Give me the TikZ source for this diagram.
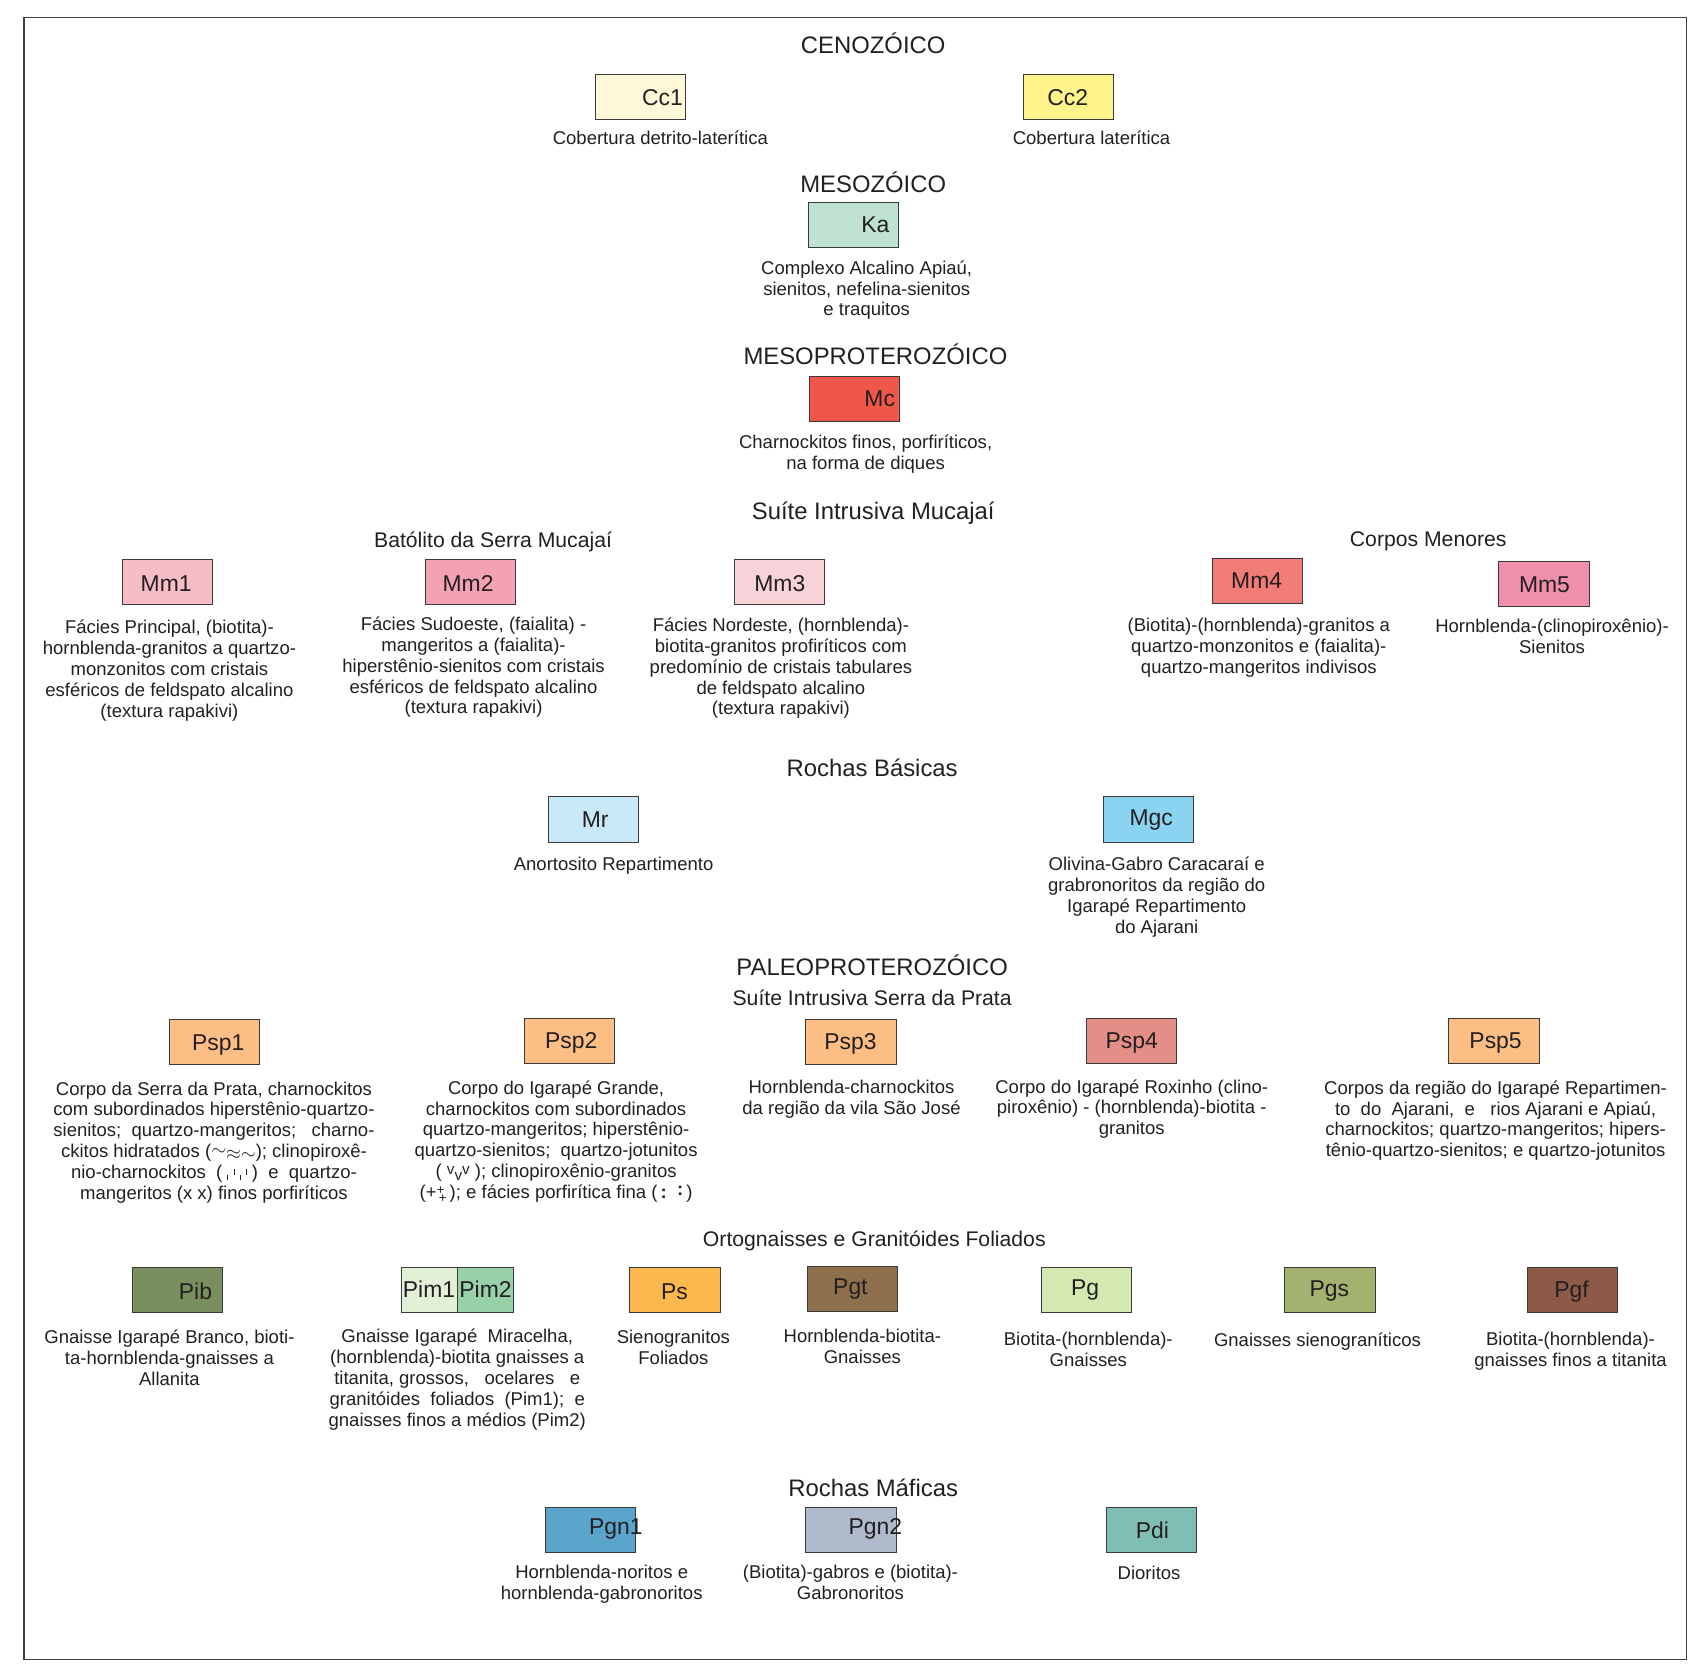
\documentclass[tikz,border=0pt]{standalone}
\usepackage{fontspec}
\setmainfont{Liberation Sans}
\usepackage{tikz}
\usetikzlibrary{positioning}

\definecolor{ink}{HTML}{231F20}
\definecolor{boxline}{HTML}{3A3A3A}
\definecolor{cCc1}{HTML}{FFF8D8}
\definecolor{cCc2}{HTML}{FFF38C}
\definecolor{cKa}{HTML}{BFE2D3}
\definecolor{cMc}{HTML}{EE574A}
\definecolor{cMm1}{HTML}{F6BDC6}
\definecolor{cMm2}{HTML}{F3A1B3}
\definecolor{cMm3}{HTML}{F9D3DA}
\definecolor{cMm4}{HTML}{F17C78}
\definecolor{cMm5}{HTML}{EF8FAB}
\definecolor{cMr}{HTML}{CAE9F8}
\definecolor{cMgc}{HTML}{8BD4F1}
\definecolor{cPsp}{HTML}{FCBE84}
\definecolor{cPsp4}{HTML}{E38F87}
\definecolor{cPib}{HTML}{7A8F5F}
\definecolor{cPim1}{HTML}{E3F0D8}
\definecolor{cPim2}{HTML}{98D0A8}
\definecolor{cPs}{HTML}{FBB84C}
\definecolor{cPgt}{HTML}{8E6F4E}
\definecolor{cPg}{HTML}{D4E8B2}
\definecolor{cPgs}{HTML}{A3B36F}
\definecolor{cPgf}{HTML}{8E5A48}
\definecolor{cPgn1}{HTML}{5AA5CB}
\definecolor{cPgn2}{HTML}{AFBACD}
\definecolor{cPdi}{HTML}{80BEB3}

\newcommand{\smalltick}[1]{\raisebox{#1}[0pt][0pt]{\rule{0.5pt}{3pt}}}
\newcommand{\shifted}[2]{\raisebox{#1}[0pt][0pt]{#2}}

\begin{document}
\begin{tikzpicture}[x=0.2mm, y=-0.2mm,
    unit/.style = {draw=boxline, line width=0.5pt, minimum width=16.6mm, minimum height=8.3mm, inner sep=0pt},
    tag/.style = {font=\fontsize{12}{14}\selectfont, text=ink, inner sep=0pt},
    era/.style = {font=\fontsize{12.5}{15}\selectfont, text=ink, anchor=base, inner sep=0pt},
    group/.style = {font=\fontsize{11.1}{13}\selectfont, text=ink, anchor=base, inner sep=0pt},
    desc/.style = {font=\fontsize{9.7}{10.94}\selectfont, text=ink, align=center, anchor=north, inner sep=0pt}]
    \useasboundingbox (0,0) rectangle (1568,1541);
    \draw[black!75, line width=0.8pt] (22,16) rectangle (1553,1528);

    \node[era] (ceno) at (804,49) {CENOZÓICO};
    \node[unit, fill=cCc1] (cc1) at (589.5,89.5) {};
    \node[tag] (cc1-t) at (610,89.5) {Cc1};
    \node[desc] (cc1-d) at (608,120.5) {Cobertura detrito-laterítica};
    \node[unit, fill=cCc2] (cc2) at (983.5,89.5) {};
    \node[tag] (cc2-t) at (983,89.5) {Cc2};
    \node[desc] (cc2-d) at (1005,120.5) {Cobertura laterítica};

    \node[era] (meso) at (804,177) {MESOZÓICO};
    \node[unit, fill=cKa] (ka) at (785.5,207.5) {};
    \node[tag] (ka-t) at (806,207) {Ka};
    \node[desc] (ka-d) at (798,239.5) {Complexo Alcalino Apiaú,\\sienitos, nefelina-sienitos\\e traquitos};

    \node[era] (mesopr) at (806,336) {MESOPROTEROZÓICO};
    \node[unit, fill=cMc] (mc) at (786.5,367.5) {};
    \node[tag] (mc-t) at (810,367) {Mc};
    \node[desc] (mc-d) at (797,400.5) {Charnockitos finos, porfiríticos,\\na forma de diques};

    \node[era] (mucajai) at (804,478) {Suíte Intrusiva Mucajaí};
    \node[group] (batolito) at (454,504) {Batólito da Serra Mucajaí};
    \node[group] (menores) at (1315,503) {Corpos Menores};
    \node[unit, fill=cMm1] (mm1) at (154.5,535.5) {};
    \node[tag] (mm1-t) at (153,537) {Mm1};
    \node[desc] (mm1-d) at (156,570.5) {Fácies Principal, (biotita)-\\hornblenda-granitos a quartzo-\\monzonitos com cristais\\esféricos de feldspato alcalino\\(textura rapakivi)};
    \node[unit, fill=cMm2] (mm2) at (433.5,535.5) {};
    \node[tag] (mm2-t) at (431,537) {Mm2};
    \node[desc] (mm2-d) at (436,567.5) {Fácies Sudoeste, (faialita) -\\mangeritos a (faialita)-\\hiperstênio-sienitos com cristais\\esféricos de feldspato alcalino\\(textura rapakivi)};
    \node[unit, fill=cMm3] (mm3) at (717.5,535.5) {};
    \node[tag] (mm3-t) at (718,537) {Mm3};
    \node[desc] (mm3-d) at (719,568.5) {Fácies Nordeste, (hornblenda)-\\biotita-granitos profiríticos com\\predomínio de cristais tabulares\\de feldspato alcalino\\(textura rapakivi)};
    \node[unit, fill=cMm4] (mm4) at (1157.5,534.5) {};
    \node[tag] (mm4-t) at (1157,535) {Mm4};
    \node[desc] (mm4-d) at (1159,568.5) {(Biotita)-(hornblenda)-granitos a\\quartzo-monzonitos e (faialita)-\\quartzo-mangeritos indivisos};
    \node[unit, fill=cMm5] (mm5) at (1421.5,537.5) {};
    \node[tag] (mm5-t) at (1422,538) {Mm5};
    \node[desc] (mm5-d) at (1429,569.5) {Hornblenda-(clinopiroxênio)-\\Sienitos};

    \node[era] (basicas) at (803,715) {Rochas Básicas};
    \node[unit, fill=cMr] (mr) at (546.5,754.5) {};
    \node[tag] (mr-t) at (548,755) {Mr};
    \node[desc] (mr-d) at (565,788.5) {Anortosito Repartimento};
    \node[unit, fill=cMgc] (mgc) at (1057.5,754.5) {};
    \node[tag] (mgc-t) at (1060,755) {Mgc};
    \node[desc] (mgc-d) at (1065,788.5) {Olivina-Gabro Caracaraí e\\grabronoritos da região do\\Igarapé Repartimento\\do Ajarani};

    \node[era] (paleo) at (803,898) {PALEOPROTEROZÓICO};
    \node[group] (prata) at (803,926) {Suíte Intrusiva Serra da Prata};
    \node[unit, fill=cPsp] (psp1) at (197.5,959.5) {};
    \node[tag] (psp1-t) at (201,962) {Psp1};
    \node[desc] (psp1-d) at (197,995.5) {Corpo da Serra da Prata, charnockitos\\com subordinados hiperstênio-quartzo-\\sienitos;\ \ quartzo-mangeritos;\ \ \ charno-\\ckitos hidratados (\shifted{1.2pt}{$\sim$}\shifted{-0.8pt}{$\approx$}\shifted{-1.2pt}{$\sim$}); clinopiroxê-\\nio-charnockitos\ \ (\;\smalltick{-1pt}\;\smalltick{2pt}\;\smalltick{-1pt}\;\smalltick{2pt}\;)\ \ e\ \ quartzo-\\mangeritos (x x) finos porfiríticos};
    \node[unit, fill=cPsp] (psp2) at (524.5,958.5) {};
    \node[tag] (psp2-t) at (526,960) {Psp2};
    \node[desc] (psp2-d) at (512,994.5) {Corpo do Igarapé Grande,\\charnockitos com subordinados\\quartzo-mangeritos; hiperstênio-\\quartzo-sienitos;\ \ quartzo-jotunitos\\(\ \shifted{1.5pt}{\footnotesize v}\shifted{-1.5pt}{\footnotesize v}\shifted{1.5pt}{\footnotesize v} ); clinopiroxênio-granitos\\(+\shifted{2pt}{\scriptsize +}\kern-0.3em\shifted{-2pt}{\scriptsize +}\,); e fácies porfirítica fina (\,\textbf{:}\ \ \shifted{1.5pt}{\textbf{:}}\,)};
    \node[unit, fill=cPsp] (psp3) at (783.5,959.5) {};
    \node[tag] (psp3-t) at (783,961) {Psp3};
    \node[desc] (psp3-d) at (784,994.5) {Hornblenda-charnockitos\\da região da vila São José};
    \node[unit, fill=cPsp4] (psp4) at (1041.5,958.5) {};
    \node[tag] (psp4-t) at (1042,960) {Psp4};
    \node[desc] (psp4-d) at (1042,993.5) {Corpo do Igarapé Roxinho (clino-\\piroxênio) - (hornblenda)-biotita -\\granitos};
    \node[unit, fill=cPsp] (psp5) at (1375.5,958.5) {};
    \node[tag] (psp5-t) at (1377,960) {Psp5};
    \node[desc] (psp5-d) at (1377,994.5) {Corpos da região do Igarapé Repartimen-\\to\ \ do\ \ Ajarani,\ \ e\ \ \ rios Ajarani e Apiaú,\\charnockitos; quartzo-mangeritos; hipers-\\tênio-quartzo-sienitos; e quartzo-jotunitos};

    \node[group] (orto) at (805,1148) {Ortognaisses e Granitóides Foliados};
    \node[unit, fill=cPib] (pib) at (163.5,1188) {};
    \node[tag] (pib-t) at (180,1189) {Pib};
    \node[desc] (pib-d) at (156,1224.5) {Gnaisse Igarapé Branco, bioti-\\ta-hornblenda-gnaisses a\\Allanita};
    \node[unit, fill=cPim1, minimum width=10.2mm] (pim1) at (395.5,1188) {};
    \node[unit, fill=cPim2, minimum width=10.4mm] (pim2) at (447,1188) {};
    \node[tag] (pim1-t) at (395,1187) {Pim1};
    \node[tag] (pim2-t) at (447,1187) {Pim2};
    \node[desc] (pim-d) at (421,1223.5) {Gnaisse Igarapé\ \ Miracelha,\\(hornblenda)-biotita gnaisses a\\titanita, grossos,\ \ \ ocelares\ \ \ e\\granitóides\ \ foliados\ \ (Pim1);\ \ e\\gnaisses finos a médios (Pim2)};
    \node[unit, fill=cPs] (ps) at (621.5,1188) {};
    \node[tag] (ps-t) at (621,1189) {Ps};
    \node[desc] (ps-d) at (620,1224.5) {Sienogranitos\\Foliados};
    \node[unit, fill=cPgt] (pgt) at (784.5,1187) {};
    \node[tag] (pgt-t) at (783,1187) {Pgt};
    \node[desc] (pgt-d) at (794,1223.5) {Hornblenda-biotita-\\Gnaisses};
    \node[unit, fill=cPg] (pg) at (1000.5,1188) {};
    \node[tag] (pg-t) at (999,1188) {Pg};
    \node[desc] (pg-d) at (1002,1226.5) {Biotita-(hornblenda)-\\Gnaisses};
    \node[unit, fill=cPgs] (pgs) at (1224.5,1188) {};
    \node[tag] (pgs-t) at (1224,1189) {Pgs};
    \node[desc] (pgs-d) at (1213,1226.5) {Gnaisses sienograníticos};
    \node[unit, fill=cPgf] (pgf) at (1447.5,1188) {};
    \node[tag] (pgf-t) at (1447,1189) {Pgf};
    \node[desc] (pgf-d) at (1446,1226.5) {Biotita-(hornblenda)-\\gnaisses finos a titanita};

    \node[era] (maficas) at (804,1378) {Rochas Máficas};
    \node[unit, fill=cPgn1] (pgn1) at (543.5,1409) {};
    \node[tag] (pgn1-t) at (567,1408) {Pgn1};
    \node[desc] (pgn1-d) at (554,1440.5) {Hornblenda-noritos e\\hornblenda-gabronoritos};
    \node[unit, fill=cPgn2] (pgn2) at (783.5,1409) {};
    \node[tag] (pgn2-t) at (806,1408) {Pgn2};
    \node[desc] (pgn2-d) at (783,1440.5) {(Biotita)-gabros e (biotita)-\\Gabronoritos};
    \node[unit, fill=cPdi] (pdi) at (1060.5,1409) {};
    \node[tag] (pdi-t) at (1061,1409) {Pdi};
    \node[desc] (pdi-d) at (1058,1441.5) {Dioritos};
\end{tikzpicture}
\end{document}
